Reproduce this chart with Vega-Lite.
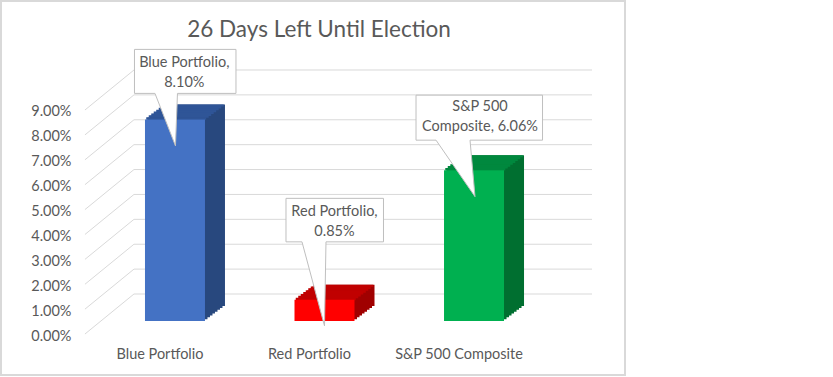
{
  "$schema": "https://vega.github.io/schema/vega-lite/v6.json",
  "autosize": {"type": "none"},
  "width": 624,
  "height": 374,
  "padding": {"left": 1, "top": 1, "right": 208, "bottom": 2},
  "background": "#FFFFFF",
  "title": {"text": "26 Days Left Until Election", "font": "Lato", "fontSize": 22.5, "fontWeight": "normal", "color": "#595959", "anchor": "middle", "dx": 6, "offset": -58, "baseline": "alphabetic"},
  "datasets": {
    "bars": [
      {"name": "Blue Portfolio", "value": 0.081, "callout": "Blue Portfolio,\n8.10%"},
      {"name": "Red Portfolio", "value": 0.0085, "callout": "Red Portfolio,\n0.85%"},
      {"name": "S&P 500 Composite", "value": 0.0606, "callout": "S&P 500\nComposite, 6.06%"}
    ],
    "grid": [{"v": 0}, {"v": 0.01}, {"v": 0.02}, {"v": 0.03}, {"v": 0.04}, {"v": 0.05}, {"v": 0.06}, {"v": 0.07}, {"v": 0.08}, {"v": 0.09}]
  },
  "data": {"name": "bars"},
  "encoding": {
    "x": {"field": "name", "type": "nominal", "sort": null,
      "scale": {"domain": ["Blue Portfolio", "Red Portfolio", "S&P 500 Composite"], "paddingInner": 0.5987, "paddingOuter": 0.886, "align": 0.5434, "round": false},
      "axis": {"title": null, "offset": -54, "labelPadding": 26, "labelOffset": -15, "labelAngle": 0, "tickSize": 0, "labelFontSize": 14.5}},
    "y": {"field": "value", "type": "quantitative",
      "scale": {"domain": [-0.021695, 0.128566], "nice": false, "zero": false},
      "axis": {"title": null, "values": [0, 0.01, 0.02, 0.03, 0.04, 0.05, 0.06, 0.07, 0.08, 0.09], "format": ".2%", "offset": -70, "labelPadding": 0, "tickSize": 0, "labelOffset": 15, "labelFontSize": 14.5}}
  },
  "layer": [
    {"data": {"name": "grid"}, "mark": {"type": "rule", "color": "#D9D9D9", "strokeWidth": 1, "xOffset": -41, "x2Offset": 118, "yOffset": -27},
      "encoding": {"x": {"datum": "Blue Portfolio", "type": "nominal"}, "x2": {"datum": "S&P 500 Composite"}, "y": {"field": "v", "type": "quantitative"}}},
    {"data": {"name": "grid"}, "mark": {"type": "rule", "color": "#D9D9D9", "strokeWidth": 1, "xOffset": -90, "x2Offset": -41, "yOffset": 13, "y2Offset": -27},
      "encoding": {"x": {"datum": "Blue Portfolio", "type": "nominal"}, "x2": {"datum": "Blue Portfolio"}, "y": {"field": "v", "type": "quantitative"}, "y2": {"field": "v"}}},
    {"mark": {"type": "bar", "width": 60, "xOffset": 2.5, "yOffset": -1.875, "y2Offset": -1.875}, "encoding": {"y2": {"datum": 0}, "fill": {"condition": [{"test": "datum.name === 'Blue Portfolio'", "value": "#28487E"}, {"test": "datum.name === 'Red Portfolio'", "value": "#A00000"}], "value": "#006F30"}}},
    {"mark": {"type": "bar", "width": 60, "xOffset": 5, "yOffset": -3.75, "y2Offset": -3.75}, "encoding": {"y2": {"datum": 0}, "fill": {"condition": [{"test": "datum.name === 'Blue Portfolio'", "value": "#28487E"}, {"test": "datum.name === 'Red Portfolio'", "value": "#A00000"}], "value": "#006F30"}}},
    {"mark": {"type": "bar", "width": 60, "xOffset": 7.5, "yOffset": -5.625, "y2Offset": -5.625}, "encoding": {"y2": {"datum": 0}, "fill": {"condition": [{"test": "datum.name === 'Blue Portfolio'", "value": "#28487E"}, {"test": "datum.name === 'Red Portfolio'", "value": "#A00000"}], "value": "#006F30"}}},
    {"mark": {"type": "bar", "width": 60, "xOffset": 10, "yOffset": -7.5, "y2Offset": -7.5}, "encoding": {"y2": {"datum": 0}, "fill": {"condition": [{"test": "datum.name === 'Blue Portfolio'", "value": "#28487E"}, {"test": "datum.name === 'Red Portfolio'", "value": "#A00000"}], "value": "#006F30"}}},
    {"mark": {"type": "bar", "width": 60, "xOffset": 12.5, "yOffset": -9.375, "y2Offset": -9.375}, "encoding": {"y2": {"datum": 0}, "fill": {"condition": [{"test": "datum.name === 'Blue Portfolio'", "value": "#28487E"}, {"test": "datum.name === 'Red Portfolio'", "value": "#A00000"}], "value": "#006F30"}}},
    {"mark": {"type": "bar", "width": 60, "xOffset": 15, "yOffset": -11.25, "y2Offset": -11.25}, "encoding": {"y2": {"datum": 0}, "fill": {"condition": [{"test": "datum.name === 'Blue Portfolio'", "value": "#28487E"}, {"test": "datum.name === 'Red Portfolio'", "value": "#A00000"}], "value": "#006F30"}}},
    {"mark": {"type": "bar", "width": 60, "xOffset": 17.5, "yOffset": -13.125, "y2Offset": -13.125}, "encoding": {"y2": {"datum": 0}, "fill": {"condition": [{"test": "datum.name === 'Blue Portfolio'", "value": "#28487E"}, {"test": "datum.name === 'Red Portfolio'", "value": "#A00000"}], "value": "#006F30"}}},
    {"mark": {"type": "bar", "width": 60, "xOffset": 20, "yOffset": -15, "y2Offset": -15}, "encoding": {"y2": {"datum": 0}, "fill": {"condition": [{"test": "datum.name === 'Blue Portfolio'", "value": "#28487E"}, {"test": "datum.name === 'Red Portfolio'", "value": "#A00000"}], "value": "#006F30"}}},
    {"mark": {"type": "bar", "width": 60, "xOffset": 1.25, "yOffset": -2.2, "y2Offset": 0.3}, "encoding": {"y2": {"field": "value"}, "fill": {"condition": [{"test": "datum.name === 'Blue Portfolio'", "value": "#2F5597"}, {"test": "datum.name === 'Red Portfolio'", "value": "#C00000"}], "value": "#00883E"}}},
    {"mark": {"type": "bar", "width": 60, "xOffset": 3.75, "yOffset": -4.05, "y2Offset": -1.575}, "encoding": {"y2": {"field": "value"}, "fill": {"condition": [{"test": "datum.name === 'Blue Portfolio'", "value": "#2F5597"}, {"test": "datum.name === 'Red Portfolio'", "value": "#C00000"}], "value": "#00883E"}}},
    {"mark": {"type": "bar", "width": 60, "xOffset": 6.25, "yOffset": -5.95, "y2Offset": -3.45}, "encoding": {"y2": {"field": "value"}, "fill": {"condition": [{"test": "datum.name === 'Blue Portfolio'", "value": "#2F5597"}, {"test": "datum.name === 'Red Portfolio'", "value": "#C00000"}], "value": "#00883E"}}},
    {"mark": {"type": "bar", "width": 60, "xOffset": 8.75, "yOffset": -7.8, "y2Offset": -5.3}, "encoding": {"y2": {"field": "value"}, "fill": {"condition": [{"test": "datum.name === 'Blue Portfolio'", "value": "#2F5597"}, {"test": "datum.name === 'Red Portfolio'", "value": "#C00000"}], "value": "#00883E"}}},
    {"mark": {"type": "bar", "width": 60, "xOffset": 11.25, "yOffset": -9.7, "y2Offset": -7.2}, "encoding": {"y2": {"field": "value"}, "fill": {"condition": [{"test": "datum.name === 'Blue Portfolio'", "value": "#2F5597"}, {"test": "datum.name === 'Red Portfolio'", "value": "#C00000"}], "value": "#00883E"}}},
    {"mark": {"type": "bar", "width": 60, "xOffset": 13.75, "yOffset": -11.55, "y2Offset": -9.05}, "encoding": {"y2": {"field": "value"}, "fill": {"condition": [{"test": "datum.name === 'Blue Portfolio'", "value": "#2F5597"}, {"test": "datum.name === 'Red Portfolio'", "value": "#C00000"}], "value": "#00883E"}}},
    {"mark": {"type": "bar", "width": 60, "xOffset": 16.25, "yOffset": -13.45, "y2Offset": -10.95}, "encoding": {"y2": {"field": "value"}, "fill": {"condition": [{"test": "datum.name === 'Blue Portfolio'", "value": "#2F5597"}, {"test": "datum.name === 'Red Portfolio'", "value": "#C00000"}], "value": "#00883E"}}},
    {"mark": {"type": "bar", "width": 60, "xOffset": 18.75, "yOffset": -15, "y2Offset": -12.8}, "encoding": {"y2": {"field": "value"}, "fill": {"condition": [{"test": "datum.name === 'Blue Portfolio'", "value": "#2F5597"}, {"test": "datum.name === 'Red Portfolio'", "value": "#C00000"}], "value": "#00883E"}}},
    {"mark": {"type": "bar", "width": 60}, "encoding": {"y2": {"datum": 0}, "fill": {"condition": [{"test": "datum.name === 'Blue Portfolio'", "value": "#4472C4"}, {"test": "datum.name === 'Red Portfolio'", "value": "#FF0000"}], "value": "#00B050"}}},
    {"mark": {"type": "point", "filled": true, "fill": "#FFFFFF", "stroke": "#BFBFBF", "strokeWidth": 1, "size": 4, "opacity": 1, "strokeOpacity": 1, "fillOpacity": 1},
      "encoding": {"shape": {"field": "name", "type": "nominal", "legend": null,
        "scale": {"domain": ["Blue Portfolio", "Red Portfolio", "S&P 500 Composite"],
          "range": ["M -40.5 -70 L 61 -70 L 61 -26 L 2.5 -26 L 0.5 26.5 L -20 -26 L -40.5 -26 Z",
                    "M -38.5 -101.5 L 59 -101.5 L 59 -58 L 1.5 -58 L 0 26 L -22.5 -58 L -38.5 -58 Z",
                    "M -58 -75 L 68.5 -75 L 68.5 -30 L -4 -30 L 1 26.5 L -38 -30 L -58 -30 Z"]}}}},
    {"transform": [{"filter": "datum.name === 'Blue Portfolio'"}], "mark": {"type": "text", "font": "Lato", "fontSize": 14.5, "color": "#595959", "align": "center", "baseline": "middle", "lineBreak": "\n", "lineHeight": 20, "dx": 9.3, "dy": -56.7}, "encoding": {"text": {"field": "callout"}}},
    {"transform": [{"filter": "datum.name === 'Red Portfolio'"}], "mark": {"type": "text", "font": "Lato", "fontSize": 14.5, "color": "#595959", "align": "center", "baseline": "middle", "lineBreak": "\n", "lineHeight": 20, "dx": 10, "dy": -87.5}, "encoding": {"text": {"field": "callout"}}},
    {"transform": [{"filter": "datum.name === 'S&P 500 Composite'"}], "mark": {"type": "text", "font": "Lato", "fontSize": 14.5, "color": "#595959", "align": "center", "baseline": "middle", "lineBreak": "\n", "lineHeight": 20, "dx": 6, "dy": -62.9}, "encoding": {"text": {"field": "callout"}}}
  ],
  "config": {
    "font": "Lato",
    "view": {"stroke": "#D9D9D9", "strokeWidth": 2},
    "axis": {"labelFont": "Lato", "labelFontSize": 14.5, "labelColor": "#595959", "ticks": false, "domain": false, "grid": false}
  }
}
